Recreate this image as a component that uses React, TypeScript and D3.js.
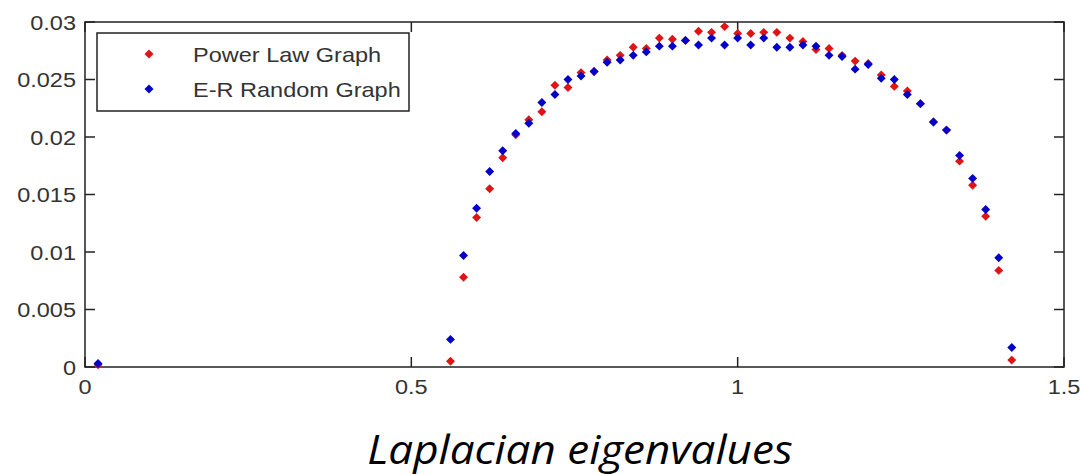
import React from "react";
import * as d3 from "d3";

const eigenvalues: number[] = [
  0.56, 0.58, 0.6, 0.62, 0.64, 0.66, 0.68, 0.7, 0.72, 0.74, 0.76, 0.78, 0.8, 0.82, 0.84, 0.86,
  0.88, 0.9, 0.92, 0.94, 0.96, 0.98, 1.0, 1.02, 1.04, 1.06, 1.08, 1.1, 1.12, 1.14, 1.16, 1.18,
  1.2, 1.22, 1.24, 1.26, 1.28, 1.3, 1.32, 1.34, 1.36, 1.38, 1.4, 1.42,
];

const powerLaw: number[] = [
  0.0005, 0.0078, 0.013, 0.0155, 0.0182, 0.0202, 0.0215, 0.0222, 0.0245, 0.0243, 0.0256, 0.0257,
  0.0267, 0.0271, 0.0278, 0.0277, 0.0286, 0.0285, 0.0284, 0.0292, 0.0291, 0.0296, 0.029, 0.029,
  0.0291, 0.0291, 0.0286, 0.0283, 0.0276, 0.0277, 0.0271, 0.0266, 0.0264, 0.0254, 0.0244, 0.024,
  0.0229, 0.0213, 0.0206, 0.0179, 0.0158, 0.0131, 0.0084, 0.0006,
];

const erRandom: number[] = [
  0.0024, 0.0097, 0.0138, 0.017, 0.0188, 0.0203, 0.0212, 0.023, 0.0237, 0.025, 0.0253, 0.0257,
  0.0265, 0.0267, 0.0271, 0.0274, 0.0279, 0.0279, 0.0284, 0.028, 0.0286, 0.028, 0.0286, 0.028,
  0.0286, 0.0278, 0.0278, 0.028, 0.0279, 0.0271, 0.027, 0.0259, 0.0263, 0.0251, 0.025, 0.0237,
  0.0229, 0.0213, 0.0206, 0.0184, 0.0164, 0.0137, 0.0095, 0.0017,
];

// isolated eigenvalue near zero
const zeroEigen: number[] = [0.02];
const zeroPowerLaw: number[] = [0.0002];
const zeroER: number[] = [0.0003];

const xTicks: number[] = [0, 0.5, 1, 1.5];
const xTickLabels: string[] = ["0", "0.5", "1", "1.5"];
const yTicks: number[] = [0, 0.005, 0.01, 0.015, 0.02, 0.025, 0.03];
const yTickLabels: string[] = ["0", "0.005", "0.01", "0.015", "0.02", "0.025", "0.03"];

const seriesNames: string[] = ["Power Law Graph", "E-R Random Graph"];
const seriesColors: string[] = ["#e01414", "#0000c8"];

const W = 1080;
const H = 474;
const left = 85;
const right = 1064;
const top = 22;
const bottom = 367;

export default function App() {
  const x = d3.scaleLinear().domain([0, 1.5]).range([left, right]);
  const y = d3.scaleLinear().domain([0, 0.03]).range([bottom, top]);
  const marker = d3.symbol().type(d3.symbolSquare).size(40)() as string;

  const red = [
    ...zeroEigen.map((e, i) => ({ e, v: zeroPowerLaw[i] })),
    ...eigenvalues.map((e, i) => ({ e, v: powerLaw[i] })),
  ];
  const blue = [
    ...zeroEigen.map((e, i) => ({ e, v: zeroER[i] })),
    ...eigenvalues.map((e, i) => ({ e, v: erRandom[i] })),
  ];

  const axisColor = "#222";
  const labelColor = "#333";
  const tickLen = 10;
  const font = "'Liberation Sans', Arial, sans-serif";

  return (
    <svg
      width={W}
      height={H}
      style={{ position: "absolute", left: 0, top: 0, background: "#fff" }}
      fontFamily={font}
    >
      <rect x={0} y={0} width={W} height={H} fill="#fff" />
      {/* ticks */}
      {yTicks.map((t) => (
        <g key={"yt" + t}>
          <line x1={left} x2={left + tickLen} y1={y(t)} y2={y(t)} stroke={axisColor} strokeWidth={1.5} />
          <line x1={right} x2={right - tickLen} y1={y(t)} y2={y(t)} stroke={axisColor} strokeWidth={1.5} />
        </g>
      ))}
      {xTicks.map((t) => (
        <g key={"xt" + t}>
          <line x1={x(t)} x2={x(t)} y1={bottom} y2={bottom - tickLen} stroke={axisColor} strokeWidth={1.5} />
          <line x1={x(t)} x2={x(t)} y1={top} y2={top + tickLen} stroke={axisColor} strokeWidth={1.5} />
        </g>
      ))}
      <rect
        x={left}
        y={top}
        width={right - left}
        height={bottom - top}
        fill="none"
        stroke={axisColor}
        strokeWidth={1.5}
      />
      {/* tick labels */}
      {yTicks.map((t, i) => (
        <text
          key={"yl" + t}
          transform={`translate(${left - 9},${y(t) + 7.5}) scale(1.12,1)`}
          textAnchor="end"
          fontSize={21}
          fill={labelColor}
        >
          {yTickLabels[i]}
        </text>
      ))}
      {xTicks.map((t, i) => (
        <text
          key={"xl" + t}
          transform={`translate(${x(t)},${bottom + 27}) scale(1.12,1)`}
          textAnchor="middle"
          fontSize={21}
          fill={labelColor}
        >
          {xTickLabels[i]}
        </text>
      ))}
      {/* points */}
      {red.map((d, i) => (
        <path
          key={"r" + i}
          d={marker}
          transform={`translate(${x(d.e)},${y(d.v)}) rotate(45)`}
          fill={seriesColors[0]}
        />
      ))}
      {blue.map((d, i) => (
        <path
          key={"b" + i}
          d={marker}
          transform={`translate(${x(d.e)},${y(d.v)}) rotate(45)`}
          fill={seriesColors[1]}
        />
      ))}
      {/* legend */}
      <rect x={97} y={33} width={312} height={78} fill="#fff" stroke={axisColor} strokeWidth={1.5} />
      {seriesNames.map((n, i) => (
        <g key={"lg" + i}>
          <path d={marker} transform={`translate(149,${54 + i * 35}) rotate(45)`} fill={seriesColors[i]} />
          <text
            transform={`translate(193,${61.5 + i * 35}) scale(1.12,1)`}
            fontSize={21}
            fill={labelColor}
          >
            {n}
          </text>
        </g>
      ))}
      {/* axis title */}
      <text
        transform="translate(580,464) scale(1.1,1)"
        textAnchor="middle"
        fontSize={40}
        fontStyle="italic"
        fontFamily="'Open Sans', sans-serif"
        fill="#000"
      >
        Laplacian eigenvalues
      </text>
    </svg>
  );
}
